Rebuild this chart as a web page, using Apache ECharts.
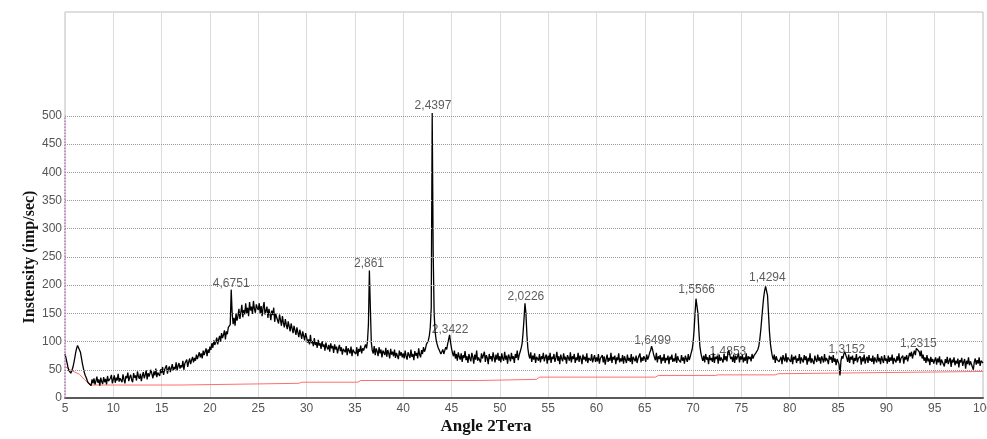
<!DOCTYPE html>
<html>
<head>
<meta charset="utf-8">
<script src="https://cdn.jsdelivr.net/npm/echarts@6/dist/echarts.min.js"></script>
<style>
html,body{margin:0;padding:0;background:#fff;overflow:hidden;}
#chart{width:987px;height:439px;}
</style>
</head>
<body>
<div id="chart"></div>
<script>
// ---- data: intensities sampled every 0.1 deg inside each 5-degree block ----
const STEP = 0.1;
const i05 = [78,71,63,55,49,46,44,47,53,61, 70,80,88,93,95,90,81,71,61,53, 45,40,36,31,27,24,29,22,33,26, 35,24,30,38,27,33,22,36,29,25, 37,28,34,24,39,30,27,35,41,26];
const i10 = [33,40,27,36,31,43,29,35,38,28, 42,33,26,39,35,45,30,37,41,32, 28,44,36,40,31,47,38,34,43,30, 39,46,35,41,49,33,44,38,36,50, 42,35,47,40,52,37,45,43,39,51];
const i15 = [44,55,41,50,47,58,43,52,56,46, 53,60,48,55,51,63,49,57,62,52, 58,54,66,50,61,59,68,55,64,70, 60,67,73,63,71,66,77,69,75,81, 72,79,70,84,76,82,88,74,86,80];
const i20 = [91,85,97,89,102,94,99,107,95,104, 110,100,115,106,112,120,104,118,113,125, 122,130,192,150,131,142,128,150,137,145, 158,140,152,165,143,156,148,168,150,160, 145,170,155,162,149,172,158,151,166,160];
const i25 = [156,168,150,163,145,160,170,148,155,162, 142,158,150,138,155,147,160,135,150,143, 140,132,148,138,128,145,133,125,140,130, 122,136,127,118,132,124,115,128,120,112, 125,116,108,121,113,105,118,110,102,115];
const i30 = [108,98,104,95,112,97,101,92,106,94, 99,89,103,93,97,87,101,91,95,84, 98,90,86,94,82,97,88,92,80,95, 86,91,79,88,94,83,90,77,87,85, 81,92,76,88,84,79,91,74,86,82];
const i35 = [85,78,90,74,87,82,93,79,88,84, 90,95,88,100,130,226,160,98,84,79, 92,76,88,83,74,90,79,86,72,84, 81,76,89,73,85,79,70,87,77,82, 74,86,71,80,78,69,84,75,81,72];
const i40 = [79,70,84,74,68,81,76,71,86,73, 78,67,83,75,80,70,88,77,72,85, 78,90,82,87,95,92,102,110,125,160, 505,260,150,118,104,96,90,86,82,78, 80,86,78,84,90,86,96,104,112,98];
const i45 = [88,80,74,84,70,78,66,81,73,68, 79,64,76,71,83,67,74,62,78,70, 65,80,73,61,77,68,84,66,72,75, 63,79,70,67,82,64,76,71,60,78, 69,74,65,81,72,63,77,68,80,66];
const i50 = [74,63,79,70,66,82,68,75,61,77, 72,65,80,69,74,62,78,71,84,67, 76,82,88,96,115,140,168,150,112,88, 76,70,81,64,75,68,79,62,73,70, 66,78,63,74,69,80,65,72,77,61];
const i55 = [75,67,80,62,73,69,78,64,71,82, 66,74,60,77,70,65,79,68,73,61, 76,71,66,81,63,74,69,78,62,72, 67,80,64,75,70,60,77,68,73,65, 79,62,71,74,66,78,63,70,76,64];
const i60 = [72,65,78,61,70,67,76,63,74,59, 69,77,64,71,66,80,62,73,68,75, 60,72,67,79,63,70,65,76,61,74, 68,62,77,66,71,64,78,60,73,69, 65,75,62,70,67,79,63,72,66,74];
const i65 = [70,64,77,68,73,80,84,92,86,78, 72,67,80,63,74,69,76,61,72,66, 78,62,71,67,75,60,73,68,77,64, 70,65,79,62,74,68,71,63,76,66, 72,61,75,69,64,78,67,73,80,86];
const i70 = [98,120,150,176,178,150,118,92,80,72, 66,75,63,78,68,72,60,76,67,71, 64,79,62,73,69,75,61,77,66,72, 70,63,78,67,74,65,80,84,76,69, 73,64,77,62,75,68,71,79,63,74];
const i75 = [68,76,63,72,66,79,61,74,69,73, 65,78,70,75,72,80,78,86,92,104, 120,140,160,178,190,198,200,182,150,118, 96,84,74,68,77,62,74,68,71,64, 67,73,60,76,69,65,79,63,72,70];
const i80 = [71,64,77,60,73,68,75,62,70,66, 78,61,72,69,63,76,67,74,59,71, 65,79,62,70,73,60,75,68,64,77, 66,72,61,74,69,63,78,65,71,67, 60,75,68,73,62,76,64,70,58,69];
const i85 = [72,60,40,66,74,70,78,82,76,71, 64,77,62,73,68,75,60,71,66,78, 63,70,67,74,59,72,65,77,61,69, 73,62,76,66,70,64,75,60,72,67, 63,78,65,71,60,74,68,62,76,66];
const i90 = [70,61,75,64,72,66,77,60,71,68, 63,74,66,79,62,70,67,75,61,73, 68,76,65,72,80,74,82,70,78,84, 76,88,86,90,82,74,84,70,77,66, 72,62,76,65,70,58,73,64,69,61];
const i95 = [67,72,59,70,63,74,58,68,65,71, 56,69,62,73,60,66,71,55,68,63, 72,58,66,61,70,54,67,63,71,57, 64,69,52,66,60,72,58,65,62,68, 50,64,70,59,67,61,72,57,66,63, 62];
const blockStarts = [5,10,15,20,25,30,35,40,45,50,55,60,65,70,75,80,85,90,95];
const blocks = [i05,i10,i15,i20,i25,i30,i35,i40,i45,i50,i55,i60,i65,i70,i75,i80,i85,i90,i95];

// background (red) curve
const bgAngles = [5,5.5,6.5,7.0,7.6,17.0,17.2,29.2,29.5,35.3,35.6,47.8,48.0,53.8,54.1,66.1,66.4,72.3,72.6,78.5,78.8,100];
const bgValues = [56,50,42,33,23,23,26,26,28,28,31,31,33,33,37,37,40,40,41,41,43,47];

// peak labels (d-spacings)
const peakLabels = ['4,6751','2,861','2,4397','2,3422','2,0226','1,6499','1,5566','1,4853','1,4294','1,3152','1,2315'];
const peakAngles = [22.2,36.46,43.08,44.85,52.7,65.8,70.37,73.6,77.68,85.9,93.3];
const peakValues = [190,225,505,108,167,89,179,70,200,73,83];

// axes
const yGridValues = [50,100,150,200,250,300,350,400,450,500];
const yLabelMax = 500;
const xMin = 5, xMax = 100, xStep = 5;
const yMax = 684;
const xTitle = 'Angle 2Tета';
const yTitle = 'Instensity (imp/sec)';

// ---- build ----
const mainData = [];
blocks.forEach((arr, b) => {
  arr.forEach((v, k) => mainData.push([+(blockStarts[b] + k * STEP).toFixed(2), v]));
});
const bgData = bgAngles.map((a, i) => [a, bgValues[i]]);
const peakData = peakAngles.map((a, i) => ({value: [a, peakValues[i]], label: {formatter: peakLabels[i]}}));

const chart = echarts.init(document.getElementById('chart'), null, {renderer: 'canvas'});
chart.setOption({
  animation: false,
  backgroundColor: '#fff',
  grid: {left: 65, right: 4, top: 12, bottom: 41, containLabel: false, outerBoundsMode: 'none',
         show: true, borderColor: '#bdbdbd', borderWidth: 1, backgroundColor: 'transparent'},
  xAxis: {
    type: 'value', min: xMin, max: xMax, interval: xStep,
    axisLine: {show: true, onZero: false, lineStyle: {color: '#5a5a5a', width: 2}},
    axisTick: {show: false},
    axisLabel: {color: '#555', fontFamily: 'Liberation Sans, Arial', fontSize: 12, margin: 5, showMaxLabel: true, hideOverlap: false},
    splitLine: {show: true, lineStyle: {color: '#dcdcdc', width: 1, type: 'solid'}}
  },
  yAxis: {
    type: 'value', min: 0, max: yMax, interval: 50,
    axisLine: {show: false},
    axisTick: {show: false},
    splitLine: {show: false},
    axisLabel: {
      color: '#555', fontFamily: 'Liberation Sans, Arial', fontSize: 12, margin: 3,
      formatter: v => (v <= yLabelMax ? String(v) : ''), showMaxLabel: false
    }
  },
  graphic: [
    {type: 'text', x: 30, y: 257, rotation: Math.PI / 2,
     style: {text: yTitle, font: 'bold 16px "Liberation Serif", "Times New Roman", serif', fill: '#111', align: 'center', verticalAlign: 'middle'}},
    {type: 'text', x: 486, y: 427,
     style: {text: xTitle, font: 'bold 17px "Liberation Serif", "Times New Roman", serif', fill: '#111', align: 'center', verticalAlign: 'middle'}}
  ],
  series: [
    {
      type: 'line', data: bgData, symbol: 'none', z: 2,
      lineStyle: {color: '#ff6e6e', width: 1},
      silent: true,
      markLine: {
        silent: true, symbol: 'none', label: {show: false}, animation: false,
        lineStyle: {color: '#9a9a9a', type: 'dotted', width: 1},
        data: yGridValues.map(v => ({yAxis: v})).concat([
          [{coord: [xMin, 0], lineStyle: {color: '#c07ac0', type: 'dotted', width: 1.5}},
           {coord: [xMin, yLabelMax]}]
        ])
      }
    },
    {
      type: 'scatter', data: peakData, symbolSize: 0, z: 1, silent: true,
      label: {show: true, position: 'top', distance: 1, color: '#333', fontFamily: 'Liberation Sans, Arial', fontSize: 12}
    },
    {
      type: 'line', data: mainData, symbol: 'none', z: 3, silent: true,
      lineStyle: {color: '#000', width: 1.3}
    }
  ]
});
</script>
</body>
</html>
